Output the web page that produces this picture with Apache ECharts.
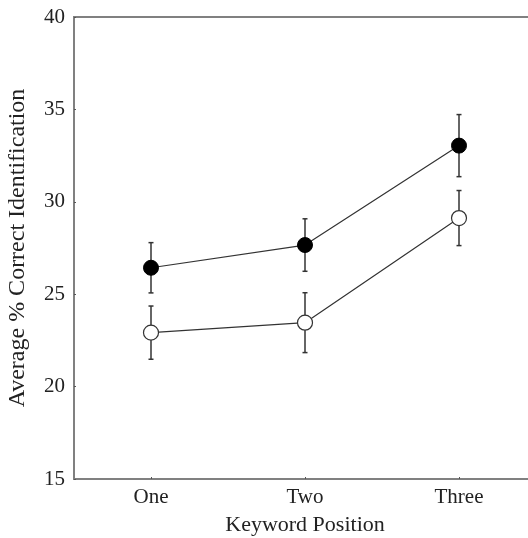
<!DOCTYPE html>
<html>
<head>
<meta charset="utf-8">
<script src="https://cdn.jsdelivr.net/npm/echarts@6/dist/echarts.min.js"></script>
<style>
html,body{margin:0;padding:0;background:#fff;}
#chart{width:528px;height:538px;}
</style>
</head>
<body>
<div id="chart"></div>
<script>
var categories = ['One', 'Two', 'Three'];
var filledMeans = [26.43, 27.66, 33.04];
var filledErr = [1.36, 1.42, 1.68];
var openMeans = [22.92, 23.46, 29.12];
var openErr = [1.44, 1.62, 1.49];
var yTicks = [15, 20, 25, 30, 35, 40];

var FONT = 'Liberation Serif';
var chart = echarts.init(document.getElementById('chart'));

function errData(means, errs) {
  return means.map(function (m, i) { return [i, m - errs[i], m + errs[i]]; });
}
function errSeries(means, errs) {
  return {
    type: 'custom',
    data: errData(means, errs),
    z: 1,
    silent: true,
    renderItem: function (params, api) {
      var x = api.value(0);
      var lo = api.coord([x, api.value(1)]);
      var hi = api.coord([x, api.value(2)]);
      var cap = 2.5;
      var style = { stroke: '#333', lineWidth: 1.5 };
      return {
        type: 'group',
        children: [
          { type: 'line', shape: { x1: lo[0], y1: lo[1], x2: hi[0], y2: hi[1] }, style: style },
          { type: 'line', shape: { x1: lo[0] - cap, y1: lo[1], x2: lo[0] + cap, y2: lo[1] }, style: style },
          { type: 'line', shape: { x1: hi[0] - cap, y1: hi[1], x2: hi[0] + cap, y2: hi[1] }, style: style }
        ]
      };
    }
  };
}

chart.setOption({
  animation: false,
  backgroundColor: '#fff',
  grid: { left: 74, top: 17, right: -8, bottom: 59, outerBoundsMode: 'none', containLabel: false, show: true, borderColor: '#808080', borderWidth: 2, backgroundColor: 'transparent' },
  xAxis: {
    type: 'category',
    data: categories,
    boundaryGap: true,
    name: 'Keyword Position',
    nameLocation: 'middle',
    nameGap: 35,
    nameTextStyle: { fontFamily: FONT, fontSize: 22, color: '#222' },
    axisLine: { show: true, lineStyle: { color: '#808080', width: 2 } },
    axisTick: { show: true, inside: true, alignWithLabel: true, length: 2, lineStyle: { color: '#555' } },
    axisLabel: { fontFamily: FONT, fontSize: 21, color: '#222', margin: 8 },
    splitLine: { show: false }
  },
  yAxis: {
    type: 'value',
    min: 15, max: 40, interval: 5,
    name: 'Average % Correct Identification',
    nameLocation: 'middle',
    nameGap: 44,
    nameTextStyle: { fontFamily: FONT, fontSize: 24, color: '#222' },
    axisLine: { show: true, lineStyle: { color: '#808080', width: 2 } },
    axisTick: { show: true, inside: true, length: 2, lineStyle: { color: '#555' } },
    axisLabel: {
      fontFamily: FONT, fontSize: 21, color: '#222', margin: 9,
      formatter: function (v) { return yTicks.indexOf(v) >= 0 ? String(v) : ''; }
    },
    splitLine: { show: false }
  },
  series: [
    errSeries(filledMeans, filledErr),
    errSeries(openMeans, openErr),
    {
      type: 'line',
      data: filledMeans,
      z: 3,
      symbol: 'circle',
      symbolSize: 15,
      lineStyle: { color: '#333', width: 1.2 },
      itemStyle: { color: '#000', borderColor: '#000', borderWidth: 1 }
    },
    {
      type: 'line',
      data: openMeans,
      z: 3,
      symbol: 'circle',
      symbolSize: 15,
      lineStyle: { color: '#333', width: 1.2 },
      itemStyle: { color: '#fff', borderColor: '#333', borderWidth: 1.2 }
    }
  ]
});
</script>
</body>
</html>
